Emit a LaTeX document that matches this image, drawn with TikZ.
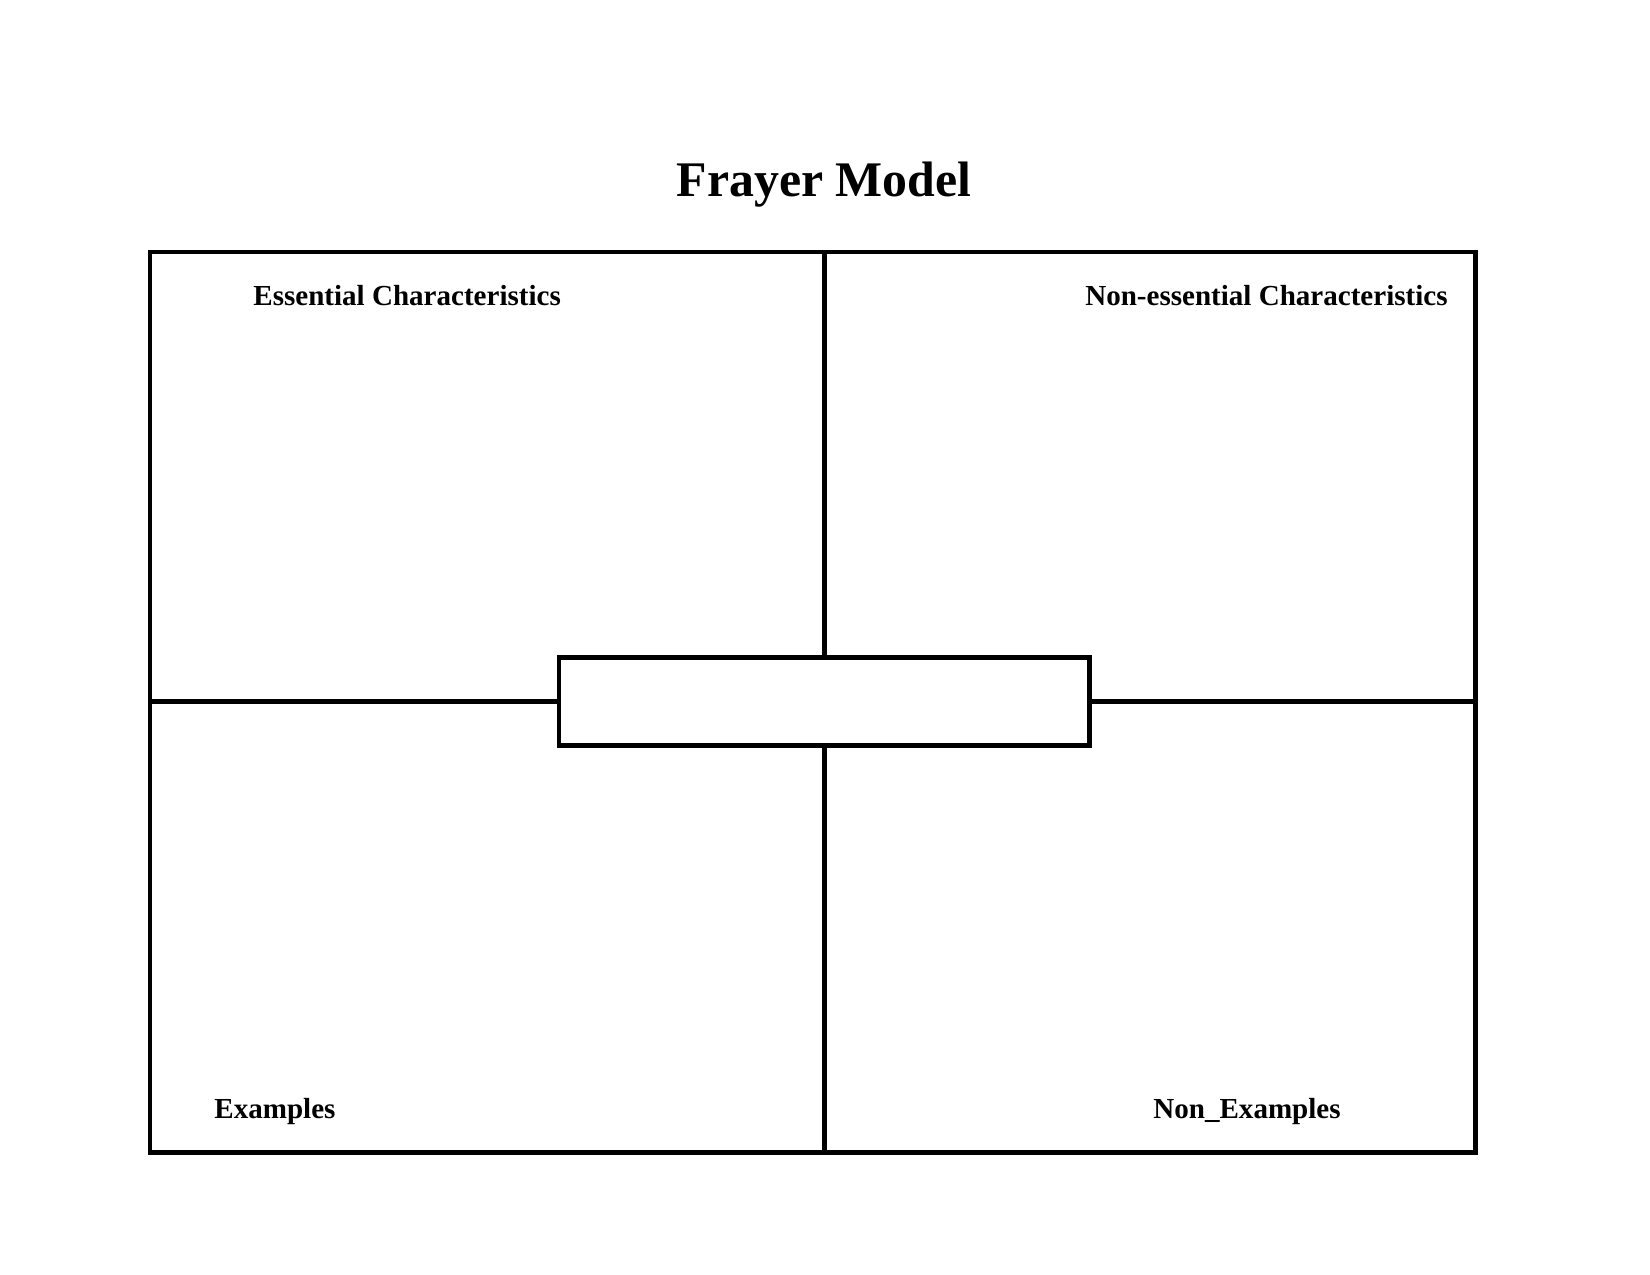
\documentclass[tikz,border=0pt]{standalone}
\usepackage{fontspec}
\setmainfont{Liberation Serif}
\usepackage{tikz}
\usetikzlibrary{positioning}
\tikzstyle{frayerbox} = [rectangle, draw=black, line width=2.4pt, inner sep=0pt, outer sep=0pt]
\tikzstyle{divider} = [line width=2.4pt, color=black]
\tikzstyle{cornerlabel} = [font=\fontsize{14}{16}\selectfont\bfseries, inner sep=0pt]

\begin{document}
\begin{tikzpicture}[x=0.016933cm, y=-0.016933cm]
\useasboundingbox (0,0) rectangle (1650,1275);

% Title
\node[font=\fontsize{24}{28}\selectfont\bfseries, inner sep=0pt, anchor=base] (title) at (824,197) {Frayer Model};

% Outer frame and word box
\node[frayerbox, minimum width=1325*0.016933cm, minimum height=900*0.016933cm] (frame) at (812.5,702) {};
\node[frayerbox, fill=white, minimum width=530*0.016933cm, minimum height=87.5*0.016933cm] (term) at (824,701.5) {};

% Dividers
\draw[divider] (term.north) -- (term.north |- frame.north);
\draw[divider] (term.south) -- (term.south |- frame.south);
\draw[divider] (term.west) -- (term.west -| frame.west);
\draw[divider] (term.east) -- (term.east -| frame.east);

% Labels
\node[cornerlabel, anchor=base west] (essential) at (253,305) {Essential Characteristics};
\node[cornerlabel, anchor=base east] (nonessential) at (1448,305) {Non-essential Characteristics};
\node[cornerlabel, anchor=base west] (examples) at (214,1118) {Examples};
\node[cornerlabel, anchor=base west] (nonexamples) at (1153,1118) {Non\_Examples};
\end{tikzpicture}
\end{document}
